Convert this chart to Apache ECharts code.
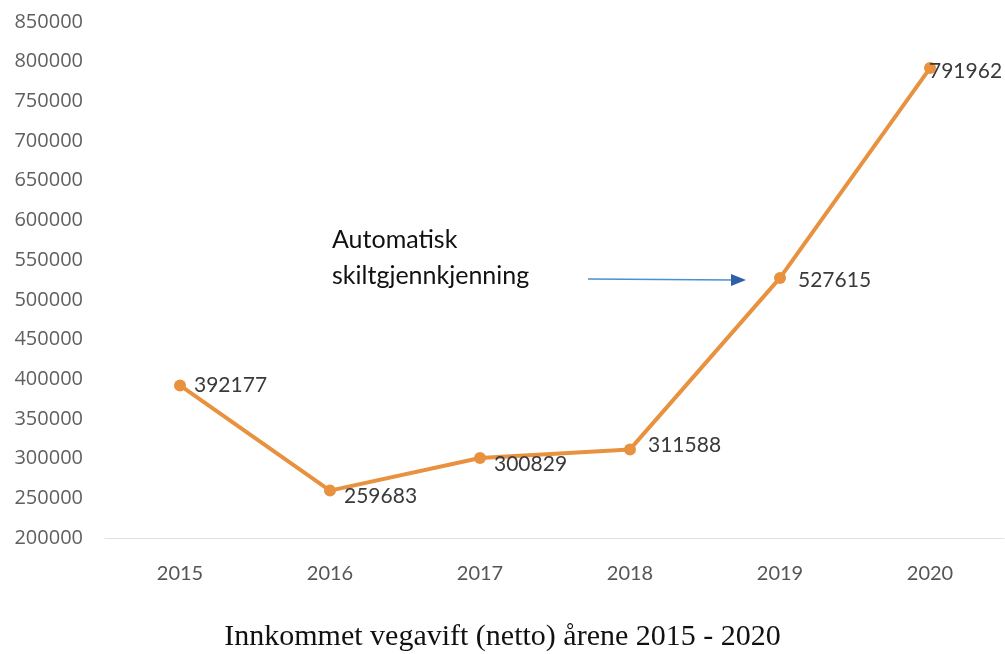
<!DOCTYPE html>
<html>
<head>
<meta charset="utf-8">
<style>
  html, body { margin: 0; padding: 0; background: #fff; }
  #chart { width: 1005px; height: 654px; }
</style>
<script src="https://cdn.jsdelivr.net/npm/echarts@6/dist/echarts.min.js"></script>
</head>
<body>
<div id="chart"></div>
<script>
const years = ['2015', '2016', '2017', '2018', '2019', '2020']
const income = [392177, 259683, 300829, 311588, 527615, 791962]
const yMin = 200000
const yMax = 850000
const yStep = 50000

// label offsets per point, roughly as in the scan
const labelOffsets = [[2, 0], [2, 6], [2, 6], [6, -4], [6, 2], [-13, 3]]

const chart = echarts.init(document.getElementById('chart'))

chart.setOption({
  animation: false,
  grid: { left: 105, right: 0, top: 22, bottom: 116 },
  xAxis: {
    type: 'category',
    data: years,
    axisLine: { lineStyle: { color: '#dcdcdc', width: 1, type: 'dotted' } },
    axisTick: { show: false },
    axisLabel: { color: '#555', fontFamily: 'Lato', fontSize: 20, margin: 26 }
  },
  yAxis: {
    type: 'value',
    min: yMin,
    max: yMax,
    interval: yStep,
    splitLine: { show: false },
    axisLine: { show: false },
    axisTick: { show: false },
    axisLabel: {
      color: '#5f5f5f',
      fontFamily: 'Open Sans',
      fontSize: 20,
      margin: 22,
      formatter: v => String(v)
    }
  },
  series: [{
    type: 'line',
    data: income.map((v, i) => ({
      value: v,
      label: { offset: labelOffsets[i] }
    })),
    symbol: 'circle',
    symbolSize: 12,
    lineStyle: { color: '#E8913F', width: 4 },
    itemStyle: { color: '#E8913F' },
    label: {
      show: true,
      position: 'right',
      distance: 6,
      color: '#3a3a3a',
      fontFamily: 'Lato',
      fontSize: 21,
      formatter: p => String(p.value)
    }
  }],
  graphic: [
    {
      type: 'text',
      left: 332,
      top: 222,
      style: {
        text: 'Automatisk\nskiltgjennkjenning',
        font: '25px Lato',
        fill: '#111',
        lineHeight: 36
      }
    },
    {
      type: 'line',
      shape: { x1: 588, y1: 279, x2: 734, y2: 280 },
      style: { stroke: '#4a8fd4', lineWidth: 1.5 }
    },
    {
      type: 'polygon',
      shape: { points: [[731, 274], [746, 280], [731, 286]] },
      style: { fill: '#2f5fa8' }
    },
    {
      type: 'text',
      left: 'center',
      top: 622,
      style: {
        text: 'Innkommet vegavift (netto) årene 2015 - 2020',
        font: '30px "Liberation Serif"',
        fill: '#111'
      }
    }
  ]
})
</script>
</body>
</html>
